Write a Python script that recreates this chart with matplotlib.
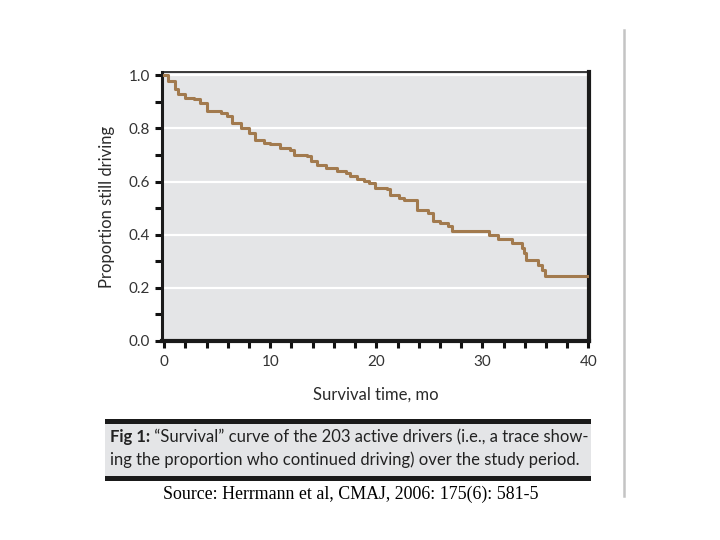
import matplotlib
matplotlib.use("Agg")
import matplotlib.pyplot as plt
from matplotlib.patches import Rectangle
from matplotlib.lines import Line2D

# Kaplan-Meier style survival curve (step function)
months = [0, 0.4, 1.0, 1.35, 2.0, 2.8, 3.4, 4.0, 5.4, 5.9, 6.4, 7.2, 8.0, 8.6,
          9.4, 10.0, 10.9, 11.9, 12.2, 13.5, 13.8, 14.4, 15.3, 16.3, 17.1, 17.5,
          18.2, 18.8, 19.3, 19.9, 21.0, 21.3, 22.1, 22.6, 23.8, 24.9, 25.3, 26.0,
          26.8, 27.1, 30.6, 31.5, 32.8, 33.7, 33.9, 34.1, 35.2, 35.6, 35.9, 40.0]
still_driving = [1.0, 0.98, 0.947, 0.928, 0.916, 0.909, 0.897, 0.865, 0.859, 0.846,
                 0.821, 0.803, 0.783, 0.758, 0.746, 0.74, 0.727, 0.72, 0.70, 0.695,
                 0.677, 0.664, 0.652, 0.639, 0.633, 0.62, 0.608, 0.601, 0.595, 0.576,
                 0.57, 0.551, 0.538, 0.532, 0.494, 0.482, 0.45, 0.444, 0.431, 0.412,
                 0.397, 0.385, 0.369, 0.35, 0.33, 0.306, 0.287, 0.268, 0.246, 0.246]

x_major = [0, 10, 20, 30, 40]
x_minor = list(range(0, 41, 2))
y_major = [0.0, 0.2, 0.4, 0.6, 0.8, 1.0]
y_minor = [0.1, 0.3, 0.5, 0.7, 0.9]

caption_bold = "Fig 1:"
caption_line1 = " \u201cSurvival\u201d curve of the 203 active drivers (i.e., a trace show-"
caption_line2 = "ing the proportion who continued driving) over the study period."
source_text = "Source: Herrmann et al, CMAJ, 2006: 175(6): 581-5"

sans = ["Lato", "DejaVu Sans"]

fig = plt.figure(figsize=(7.2, 5.4), dpi=100)
W, H = 720, 540

ax = fig.add_axes([162 / W, 1 - 341 / H, (589 - 162) / W, (341 - 72) / H])
ax.set_facecolor("#e4e5e7")
ax.set_xlim(-0.2, 40.05)
ax.set_ylim(0, 1.012)

for yv in y_major[1:]:
    ax.axhline(yv, color="white", lw=1.6, zorder=1)

ax.step(months, still_driving, where="post", color="#a27a4e", lw=2.2, zorder=3)

ax.set_xticks(x_major)
ax.set_xticks(x_minor, minor=True)
ax.set_yticks(y_major)
ax.set_yticks(y_minor, minor=True)
ax.set_yticklabels([f"{v:.1f}" for v in y_major])
ax.tick_params(axis="both", which="both", direction="out", length=5, width=2.2,
               color="#111111", labelsize=11, labelcolor="#333333")
ax.tick_params(axis="x", pad=5)
for lab in ax.get_xticklabels() + ax.get_yticklabels():
    lab.set_family(sans)

ax.spines["left"].set_linewidth(2.2)
ax.spines["bottom"].set_linewidth(3)
ax.spines["right"].set_linewidth(3)
ax.spines["top"].set_linewidth(1.2)
for s in ax.spines.values():
    s.set_color("#1a1a1a")

ax.set_ylabel("Proportion still driving", family=sans, fontsize=12,
              color="#2a2a2a", labelpad=10)
ax.set_xlabel("Survival time, mo", family=sans, fontsize=12,
              color="#2a2a2a", labelpad=13)

# caption box
fig.patches.append(Rectangle((105 / W, 1 - 481 / H), (591 - 105) / W, 62 / H,
                             transform=fig.transFigure, facecolor="#1a1a1a",
                             edgecolor="none"))
fig.patches.append(Rectangle((105 / W, 1 - 476 / H), (591 - 105) / W, 52 / H,
                             transform=fig.transFigure, facecolor="#e4e5e7",
                             edgecolor="none"))

t_bold = fig.text(110 / W, 1 - 437 / H, caption_bold, family=sans, weight="bold",
                  fontsize=12, color="#222222", va="center")
fig.canvas.draw()
bb = t_bold.get_window_extent()
fig.text(bb.x1 / W, 1 - 437 / H, caption_line1, family=sans, fontsize=12,
         color="#222222", va="center")
fig.text(110 / W, 1 - 460 / H, caption_line2, family=sans, fontsize=12,
         color="#222222", va="center")

fig.text(351 / W, 1 - 494 / H, source_text, family="Liberation Serif",
         fontsize=12.9, color="black", ha="center", va="center")

# thin slide divider on the right
fig.add_artist(Line2D([624 / W, 624 / W], [1 - 30 / H, 1 - 496 / H],
                      transform=fig.transFigure, color="#c4c4c4", lw=1.8))

fig.savefig("out.png", dpi=100)
